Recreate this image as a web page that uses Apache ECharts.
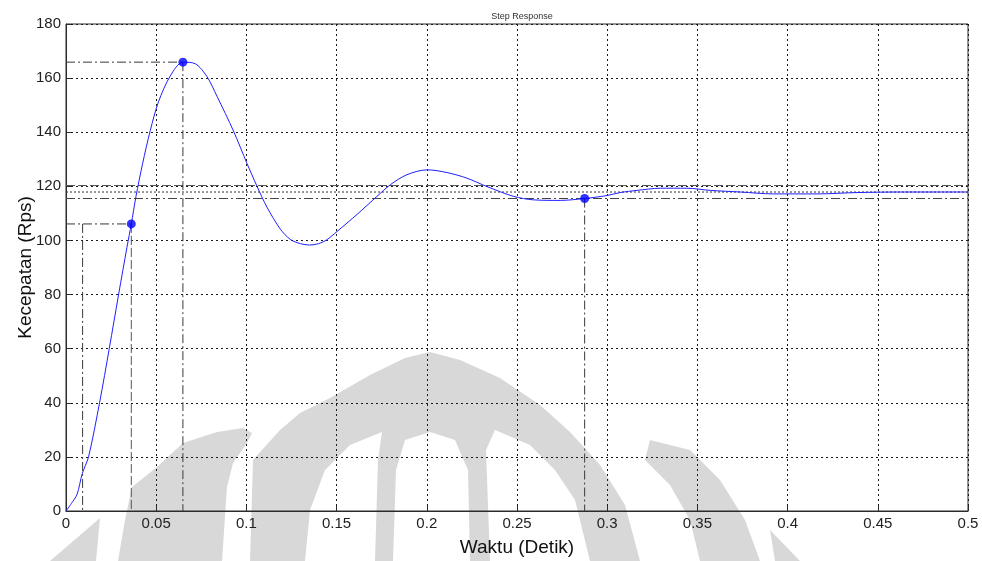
<!DOCTYPE html>
<html>
<head>
<meta charset="utf-8">
<script src="https://cdn.jsdelivr.net/npm/echarts@6/dist/echarts.min.js"></script>
<style>
  html, body { margin: 0; padding: 0; background: #ffffff; }
  #chart { width: 982px; height: 561px; }
</style>
</head>
<body>
<div id="chart"></div>
<script>
// Step response of the motor speed (Rps) against time (s)
const timeSec = [0, 0.003, 0.0061, 0.009, 0.0125, 0.0186, 0.024, 0.0292, 0.0338, 0.0362, 0.0388, 0.0425,
  0.0467, 0.0513, 0.0578, 0.0648, 0.0717, 0.0781, 0.0837, 0.0928, 0.1003, 0.1059, 0.1114, 0.1188, 0.1243,
  0.13, 0.135, 0.14, 0.1447, 0.1502, 0.1613, 0.1724, 0.1798, 0.189, 0.2001, 0.2112, 0.2223, 0.2334, 0.2481,
  0.2592, 0.274, 0.2875, 0.2999, 0.3072, 0.3165, 0.3294, 0.3442, 0.3572, 0.3738, 0.3922, 0.4163, 0.4385,
  0.4625, 0.5];
const speedRps = [0, 2.8, 6.1, 13.8, 20.0, 40.0, 60.1, 80.2, 97.5, 106.1, 116.3, 128.5,
  140.6, 151.3, 160.8, 165.9, 165.3, 160.6, 153.3, 140.5, 128.5, 120.0, 112.3, 104.2, 100.4,
  98.8, 98.3, 98.8, 100.3, 103.3, 109.6, 116.3, 120.6, 124.3, 126.1, 125.1, 123.0, 119.9, 116.3,
  115.0, 114.8, 115.5, 116.6, 117.7, 118.5, 119.3, 119.3, 118.5, 117.9, 117.2, 117.2, 117.7,
  117.9, 117.9];

// Step characteristics
const riseStart = [0.0092, 106.1];   // 10 % time, drawn up to the 90 % level
const riseEnd = [0.0362, 106.1];     // 90 % point
const peakPoint = [0.0648, 165.9];
const settlePoint = [0.2875, 115.5];
const finalValue = 117.9;
const upperBand = 120.3;
const lowerBand = 115.5;

const xTicks = { min: 0, max: 0.5, step: 0.05 };
const yTicks = { min: 0, max: 180, step: 20 };

const curve = timeSec.map((t, i) => [t, speedRps[i]]);
const markers = [riseEnd, peakPoint, settlePoint];

const INK = '#2b2b2b';
const DASH = [9, 3];
const DOT = [2, 2];
const DASHDOT = [9, 3, 2, 3];

function guide(points, type, color) {
  return {
    type: 'line',
    data: points,
    showSymbol: false,
    silent: true,
    animation: false,
    z: 3,
    lineStyle: { color: color || '#3a3a3a', width: 1, type: type }
  };
}

const chart = echarts.init(document.getElementById('chart'), null, { renderer: 'canvas' });

// Light grey seal printed behind the plot
const SEAL = '#d8d8d8';
const seal = [
  [[50, 561], [100, 518], [96, 561]],
  [[118, 561], [125, 520], [132, 487], [157, 467], [183, 443], [217, 432], [243, 428], [252, 433],
   [247, 443], [233, 463], [227, 487], [222, 561]],
  [[250, 561], [253, 460], [280, 430], [300, 413], [330, 398], [370, 375], [405, 358], [430, 352],
   [460, 360], [500, 378], [540, 405], [570, 432], [600, 465], [625, 505], [640, 561], [590, 561],
   [575, 500], [555, 470], [530, 445], [495, 430], [486, 450], [490, 561], [470, 561], [468, 470],
   [455, 440], [430, 432], [405, 440], [396, 470], [393, 561], [375, 561], [378, 460], [382, 432],
   [350, 445], [325, 470], [310, 510], [305, 561]],
  [[650, 440], [690, 450], [720, 480], [745, 520], [760, 561], [700, 561], [690, 520], [670, 485], [645, 460]],
  [[770, 530], [800, 561], [775, 561]]
];

chart.setOption({
  animation: false,
  backgroundColor: '#ffffff',
  title: {
    text: 'Step Response',
    left: 517,
    top: 7,
    textAlign: 'center',
    textStyle: { fontFamily: 'Liberation Sans, Arial, sans-serif', fontSize: 9, fontWeight: 'normal', color: '#333' }
  },
  graphic: seal.map(pts => ({
    type: 'polygon',
    z: -10,
    silent: true,
    shape: { points: pts },
    style: { fill: SEAL }
  })),
  grid: {
    left: 66, right: 14, top: 24, bottom: 50,
    outerBoundsMode: 'none',
    containLabel: false,
    show: true, borderColor: INK, borderWidth: 1, backgroundColor: 'transparent'
  },
  xAxis: {
    type: 'value',
    min: xTicks.min, max: xTicks.max, interval: xTicks.step,
    name: 'Waktu (Detik)',
    nameLocation: 'middle',
    nameGap: 27,
    nameMoveOverlap: false,
    nameTextStyle: { fontFamily: 'Liberation Sans, Arial, sans-serif', fontSize: 19, color: '#111' },
    axisLine: { show: true, lineStyle: { color: INK, width: 1 } },
    axisTick: { show: true, inside: true, length: 5, lineStyle: { color: INK } },
    axisLabel: {
      margin: 5,
      fontFamily: 'Liberation Sans, Arial, sans-serif', fontSize: 15, color: '#222',
      formatter: v => String(+v.toFixed(2))
    },
    splitLine: { show: true, lineStyle: { color: '#1a1a1a', width: 1, type: [2, 3] } }
  },
  yAxis: {
    type: 'value',
    min: yTicks.min, max: yTicks.max, interval: yTicks.step,
    name: 'Kecepatan (Rps)',
    nameLocation: 'middle',
    nameGap: 31,
    nameMoveOverlap: false,
    nameTextStyle: { fontFamily: 'Liberation Sans, Arial, sans-serif', fontSize: 19, color: '#111' },
    axisLine: { show: true, lineStyle: { color: INK, width: 1 } },
    axisTick: { show: true, inside: true, length: 5, lineStyle: { color: INK } },
    axisLabel: { margin: 5, fontFamily: 'Liberation Sans, Arial, sans-serif', fontSize: 15, color: '#222' },
    splitLine: { show: true, lineStyle: { color: '#1a1a1a', width: 1, type: [2, 3] } }
  },
  series: [
    guide([[xTicks.min, upperBand], [xTicks.max, upperBand]], DASH, '#555'),
    guide([[xTicks.min, finalValue], [xTicks.max, finalValue]], DOT, '#333'),
    guide([[xTicks.min, lowerBand], [xTicks.max, lowerBand]], DASHDOT, '#444'),
    guide([[xTicks.min, riseEnd[1]], riseEnd], DASHDOT),
    guide([riseStart, [riseStart[0], 0]], DASHDOT),
    guide([riseEnd, [riseEnd[0], 0]], DASH, '#555'),
    guide([[xTicks.min, peakPoint[1]], peakPoint], DASHDOT),
    guide([peakPoint, [peakPoint[0], 0]], DASHDOT),
    guide([settlePoint, [settlePoint[0], 0]], DASHDOT),
    {
      type: 'line',
      data: curve,
      showSymbol: false,
      smooth: 0.3,
      z: 5,
      lineStyle: { color: '#1f1fff', width: 1 }
    },
    {
      type: 'scatter',
      data: markers,
      symbol: 'circle',
      symbolSize: 9,
      z: 6,
      itemStyle: { color: '#0000ff' }
    }
  ]
});
</script>
</body>
</html>
